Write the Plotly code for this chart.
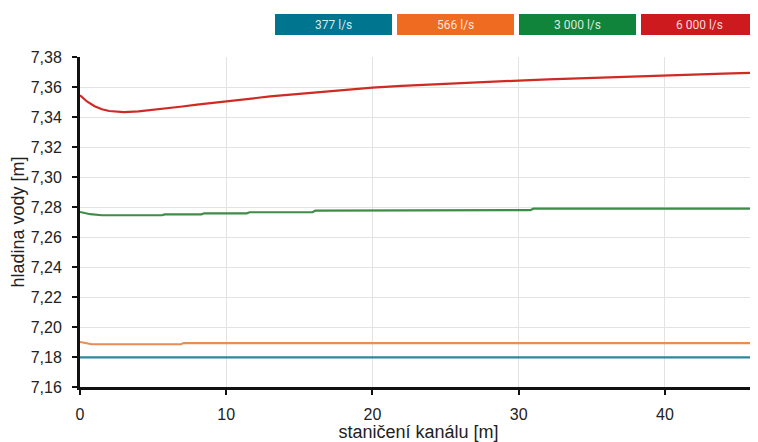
import plotly.graph_objects as go

# ---- data ----
series_names = ["377 l/s", "566 l/s", "3 000 l/s", "6 000 l/s"]
legend_colors = ["#00758f", "#ee6b21", "#10843a", "#cc1a1e"]
line_colors = ["#2b86a0", "#e98c55", "#3f8c48", "#cf2a24"]

x_blue = [0, 46.3]
y_blue = [7.1797, 7.1797]

x_orange = [0, 0.4, 0.8, 6.9, 7.1, 46.3]
y_orange = [7.1900, 7.1890, 7.1885, 7.1885, 7.1893, 7.1893]

x_green = [0, 0.7, 1.5, 5.6, 5.8, 8.3, 8.5, 11.4, 11.6, 15.9, 16.1, 21.7, 21.9, 30.8, 31.0, 46.3]
y_green = [7.2767, 7.2752, 7.2745, 7.2745, 7.2751, 7.2751, 7.2758, 7.2758, 7.2765, 7.2765,
           7.2776, 7.2776, 7.2779, 7.2779, 7.2789, 7.2789]

x_red = [0, 0.5, 1, 1.5, 2, 2.5, 3, 4, 5, 6, 7, 8, 9, 10, 11, 12, 13, 14, 15, 16, 17, 18,
         19, 20, 22, 24, 26, 28, 30, 32, 34, 36, 38, 40, 42, 44, 46.3]
y_red = [7.3545, 7.3502, 7.3472, 7.3452, 7.3440, 7.3434, 7.3433, 7.3438, 7.3447, 7.3458,
         7.3470, 7.3482, 7.3494, 7.3506, 7.3517, 7.3527, 7.3537, 7.3546, 7.3555, 7.3564,
         7.3572, 7.3580, 7.3588, 7.3596, 7.3607, 7.3617, 7.3627, 7.3635, 7.3643, 7.3651,
         7.3658, 7.3665, 7.3671, 7.3677, 7.3683, 7.3689, 7.3696]

y_ticks = [7.16, 7.18, 7.20, 7.22, 7.24, 7.26, 7.28, 7.30, 7.32, 7.34, 7.36, 7.38]
x_ticks = [0, 10, 20, 30, 40]

fig = go.Figure()
for xs, ys, c, n in [(x_blue, y_blue, line_colors[0], series_names[0]),
                     (x_orange, y_orange, line_colors[1], series_names[1]),
                     (x_green, y_green, line_colors[2], series_names[2]),
                     (x_red, y_red, line_colors[3], series_names[3])]:
    fig.add_trace(go.Scatter(x=xs, y=ys, mode="lines", name=n,
                             line=dict(color=c, width=2.2), showlegend=False))

# page has an 8px body margin: the figure starts at (8, 8) in the window
OFF = 8
FW, FH = 758 - OFF, 442 - OFF
# desired plot area in window pixels
L, R, T, B = 80, 757, 57, 387
W, H = R - L, B - T
boxes = [(275, 392), (397, 514), (519, 636), (641, 757)]
for (x0, x1), name, col in zip(boxes, series_names, legend_colors):
    fig.add_shape(type="rect", xref="paper", yref="paper",
                  x0=(x0 - L) / W, x1=(x1 - L) / W,
                  y0=(B - 35) / H, y1=(B - 14) / H,
                  fillcolor=col, line=dict(width=0), layer="above")
    fig.add_annotation(xref="paper", yref="paper",
                       x=((x0 + x1) / 2 - L) / W, y=(B - 24.5) / H,
                       text=name, showarrow=False,
                       font=dict(family="Roboto", size=12, color="rgba(255,255,255,0.85)"),
                       xanchor="center", yanchor="middle")

axis_font = dict(family="Liberation Sans", size=16, color="#222")
title_font = dict(family="Liberation Sans", size=18, color="#222")
fig.update_layout(
    width=FW, height=FH,
    margin=dict(l=L - OFF, r=FW - (R - OFF), t=T - OFF, b=FH - (B - OFF), autoexpand=False),
    paper_bgcolor="white", plot_bgcolor="white",
    separators=", ",
    font=dict(family="Liberation Sans", size=15, color="#222"),
    xaxis=dict(range=[0, 46.3], tickvals=x_ticks, tickfont=axis_font, automargin=False,
               showgrid=True, gridcolor="#e3e3e3", gridwidth=1,
               showline=True, linecolor="#111", linewidth=3,
               ticks="outside", ticklen=5, tickwidth=2, tickcolor="#111",
               ticklabelstandoff=6, zeroline=False,
               title=dict(text="staničení kanálu [m]", standoff=3, font=title_font)),
    yaxis=dict(range=[7.16, 7.38], tickvals=y_ticks, tickformat=".2f", tickfont=axis_font,
               automargin=False,
               showgrid=True, gridcolor="#e3e3e3", gridwidth=1,
               showline=True, linecolor="#111", linewidth=3,
               ticks="outside", ticklen=5, tickwidth=2, tickcolor="#111",
               ticklabelstandoff=7, zeroline=False,
               title=dict(text="hladina vody [m]", standoff=11, font=title_font)),
)

fig.write_html("out.html")
